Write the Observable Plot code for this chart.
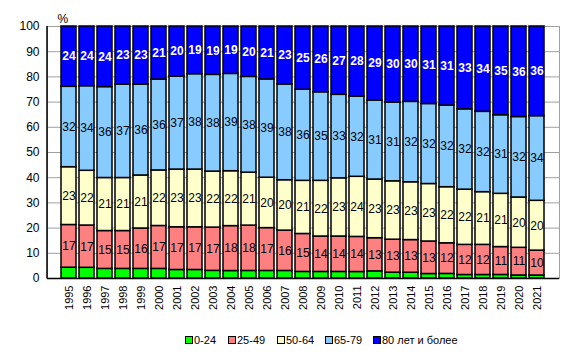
<!DOCTYPE html>
<html><head><meta charset="utf-8">
<script src="https://cdn.jsdelivr.net/npm/d3@7"></script>
<script src="https://cdn.jsdelivr.net/npm/@observablehq/plot@0.6"></script>
<style>
body{margin:0;background:#fff;font-family:"Liberation Sans",Arial,sans-serif;}
#wrap{position:relative;width:573px;height:356px;}
.leg{position:absolute;top:334px;font-size:11px;color:#000;display:flex;align-items:center;white-space:nowrap;}
.sw{width:6px;height:6px;border:1px solid #000;margin-right:1px;}
</style></head>
<body><div id="wrap"></div>
<script>
const years = d3.range(1995, 2022).map(String);
const groups = ["0-24", "25-49", "50-64", "65-79", "80 лет и более"];
const colors = ["#00ff00", "#ff8080", "#ffffcc", "#88ccff", "#0000ff"];
const g0_24 = [4.3,4.3,3.8,3.8,3.8,3.8,3.4,3.4,3,3,3,3,3,2.6,2.6,2.6,2.6,2.8,2.3,2.3,1.8,1.8,1.4,1.4,1.4,1.2,1.2];
const g25_49 = [17,17,15,15,16,17,17,17,17,18,18,17,16,15,14,14,14,13,13,13,13,12,12,12,11,11,10];
const g50_64 = [23,22,21,21,21,22,23,23,22,22,21,20,20,21,22,23,24,23,23,23,23,22,22,21,21,20,20];
const g65_79 = [32,34,36,37,36,36,37,38,38,39,38,39,38,36,35,33,32,31,31,32,32,32,32,32,31,32,34];
const g80 = [24,24,24,23,23,21,20,19,19,19,20,21,23,25,26,27,28,29,30,30,31,31,33,34,35,36,36];
const yTicks = [0,10,20,30,40,50,60,70,80,90,100];
const legendLeft = [185, 228, 277, 325, 373];

const series = [g0_24, g25_49, g50_64, g65_79, g80];
const rows = [];
series.forEach((arr, gi) => arr.forEach((v, i) => rows.push({year: years[i], group: groups[gi], value: v})));

const stackOpts = {x: "year", y: "value", z: "group", order: groups, offset: "normalize"};
const plot = Plot.plot({
  width: 573, height: 325,
  marginLeft: 47, marginRight: 14, marginTop: 26, marginBottom: 47,
  style: {fontFamily: "'Liberation Sans', Arial, sans-serif", fontSize: "12px", background: "#fff"},
  x: {domain: years, padding: 0.15, label: null},
  y: {domain: [0, 1], label: null},
  color: {domain: groups, range: colors},
  marks: [
    Plot.gridY(yTicks.map(d => d / 100), {stroke: "#a0a0a0", strokeOpacity: 1}),
    Plot.frame({stroke: "#a0a0a0"}),
    Plot.barY(rows, Plot.stackY({...stackOpts, fill: "group", stroke: "black", strokeWidth: 1.5})),
    Plot.text(rows, Plot.stackY({...stackOpts,
      text: d => (d.group === "0-24" || d.group === groups[4]) ? "" : String(d.value),
      fill: "black", fontSize: 12})),
    Plot.text(rows, Plot.stackY({...stackOpts,
      text: d => d.group === groups[4] ? String(d.value) : "",
      fill: "white", fontWeight: "bold", fontSize: 12})),
    Plot.ruleY([0], {stroke: "black", strokeWidth: 1.5}),
    Plot.axisY(yTicks.map(d => d / 100), {tickSize: 0, tickPadding: 8, tickFormat: d => Math.round(d * 100), fontSize: 12}),
    Plot.axisX({tickSize: 0, tickPadding: 7, tickRotate: -90, fontSize: 11}),
    Plot.text(["%"], {frameAnchor: "top-left", dx: 10, dy: -12, fontSize: 12})
  ]
});
const wrap = document.getElementById("wrap");
wrap.appendChild(plot);
// left axis line
const svg = d3.select(plot);
svg.append("line").attr("x1", 47).attr("x2", 47).attr("y1", 26).attr("y2", 278.5)
  .attr("stroke", "black").attr("stroke-width", 1.5);
groups.forEach((g, i) => {
  const d = document.createElement("div");
  d.className = "leg";
  d.style.left = legendLeft[i] + "px";
  d.innerHTML = `<span class="sw" style="background:${colors[i]}"></span><span>${g}</span>`;
  wrap.appendChild(d);
});
</script></body></html>
